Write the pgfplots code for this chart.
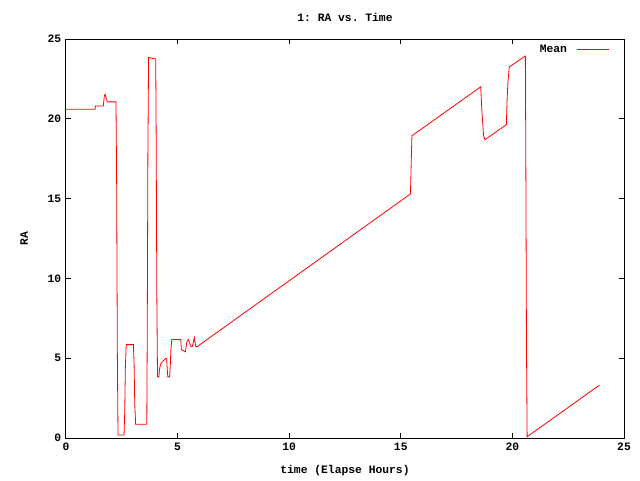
\documentclass[border=0pt]{standalone}
\usepackage{pgfplots}
\pgfplotsset{compat=1.18}
\usepackage{fontspec}
\setmonofont{Liberation Mono}
\begin{document}
\begin{tikzpicture}
\useasboundingbox (0,0) rectangle (480pt,360pt);
\begin{axis}[
  at={(49.5pt,31.5pt)}, anchor=south west,
  scale only axis, width=418.5pt, height=299.25pt,
  xmin=0, xmax=25, ymin=0, ymax=25,
  xtick={0,5,10,15,20,25}, ytick={0,5,10,15,20,25},
  tick align=inside, major tick length=4pt,
  axis line style={line width=0.75pt},
  every tick/.style={line width=0.75pt, black},
  /pgf/number format/assume math mode=true,
  tick label style={font=\ttfamily\bfseries\fontsize{8.5}{9}\selectfont},
  title={1: RA vs. Time},
  title style={font=\ttfamily\bfseries\fontsize{8.5}{9}\selectfont, at={(0.5,1)}, yshift=3.5pt},
  xlabel={time (Elapse Hours)},
  ylabel={RA},
  label style={font=\ttfamily\bfseries\fontsize{8.5}{9}\selectfont},
  xlabel style={yshift=-4pt},
  ylabel style={yshift=8pt},
  legend style={draw=none, fill=none, at={(0.976,0.996)}, anchor=north east, inner sep=1pt,
    font=\ttfamily\bfseries\fontsize{8.5}{9}\selectfont, legend plot pos=right},
  legend cell align=right,
  legend image post style={xscale=1.4},
]
\addplot[color=red, line width=0.6pt] coordinates {
(0,20.6) (1.3,20.6) (1.32,20.8) (1.67,20.8) (1.72,21.44) (1.75,21.54) (1.8,21.3) (1.85,21.06) (2.24,21.06)
(2.27,15.8) (2.3,5.4) (2.33,0.19) (2.6,0.19) (2.63,1.55) (2.66,4.46) (2.7,5.85) (3.02,5.85)
(3.05,4.67) (3.08,2.17) (3.12,0.86) (3.62,0.86) (3.64,6.58) (3.67,18.1) (3.7,23.85) (3.82,23.8)
(4.02,23.75) (4.04,18.8) (4.07,8.77) (4.1,3.83) (4.16,3.83) (4.2,4.42) (4.27,4.71) (4.38,4.87)
(4.47,4.98) (4.51,4.98) (4.53,4.46) (4.56,3.83) (4.64,3.83) (4.67,4.46) (4.7,5.54) (4.74,6.17)
(5.14,6.17) (5.17,5.54) (5.35,5.4) (5.41,6.0) (5.48,6.17) (5.59,5.75) (5.65,5.71) (5.71,6.0)
(5.75,6.29) (5.81,5.75) (5.86,5.71) (15.43,15.29) (15.45,16.23) (15.48,18.0) (15.5,18.94)
(18.58,22.0) (18.64,20.33) (18.71,18.94) (18.77,18.69) (19.73,19.63) (19.76,21.1) (19.8,22.3)
(19.86,23.25) (20.58,23.94) (20.6,18.0) (20.63,6.02) (20.66,0.08) (23.9,3.31)
};
\addlegendentry{Mean\kern5pt}
\end{axis}
\end{tikzpicture}
\end{document}
